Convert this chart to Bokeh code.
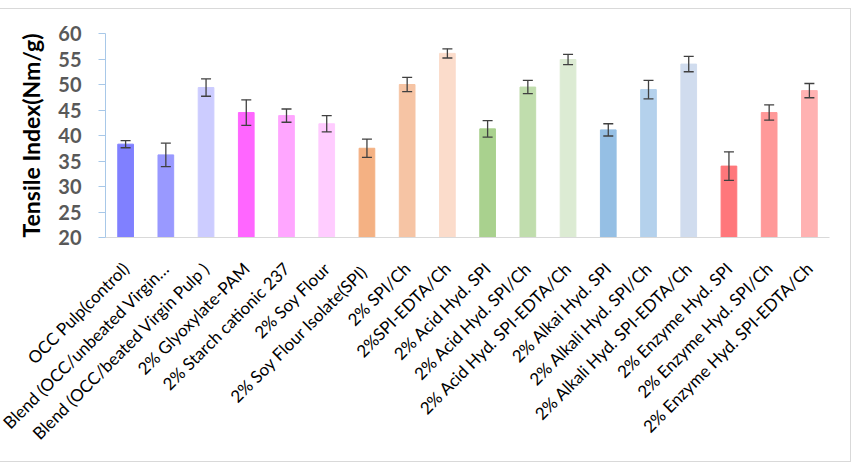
import math

from bokeh.embed import file_html
from bokeh.models import ColumnDataSource, FactorRange, Whisker
from bokeh.plotting import figure
from bokeh.resources import INLINE

# Pulp treatments and their tensile index (Nm/g) with standard deviation
categories = [
    "OCC Pulp(control)",
    "Blend (OCC/unbeated Virgin\u2026",
    "Blend (OCC/beated Virgin Pulp )",
    "2% Glyoxylate-PAM",
    "2% Starch cationic 237",
    "2% Soy Flour",
    "2%  Soy Flour Isolate(SPI)",
    "2% SPI/Ch",
    "2%SPI-EDTA/Ch",
    "2% Acid Hyd. SPI",
    "2% Acid Hyd. SPI/Ch",
    "2% Acid Hyd. SPI-EDTA/Ch",
    "2% Alkai Hyd. SPI",
    "2% Alkali Hyd. SPI/Ch",
    "2% Alkali Hyd. SPI-EDTA/Ch",
    "2% Enzyme Hyd. SPI",
    "2% Enzyme Hyd. SPI/Ch",
    "2% Enzyme Hyd. SPI-EDTA/Ch",
]
tensile = [38.3, 36.2, 49.4, 44.5, 43.9, 42.3, 37.5, 50.0, 56.1,
           41.3, 49.5, 54.9, 41.1, 49.0, 54.0, 34.0, 44.5, 48.8]
tensile_err = [0.7, 2.3, 1.7, 2.5, 1.3, 1.6, 1.8, 1.4, 0.9,
               1.6, 1.3, 1.0, 1.2, 1.8, 1.5, 2.8, 1.5, 1.4]
bar_colors = ["#8080FF", "#9999FF", "#CCCCFF", "#FF66FF", "#FFA6FF", "#FFCCFF",
              "#F4B183", "#F6C4A4", "#FBDCCB", "#A9D18E", "#C0DDAD", "#DCEBD3",
              "#95BFE4", "#B4D1EC", "#D0DCEE", "#FF777B", "#FF9999", "#FFB2B2"]
y_ticks = [20, 25, 30, 35, 40, 45, 50, 55, 60]

source = ColumnDataSource(data=dict(
    cat=categories,
    val=tensile,
    upper=[v + e for v, e in zip(tensile, tensile_err)],
    lower=[v - e for v, e in zip(tensile, tensile_err)],
    color=bar_colors,
))

p = figure(
    width=851, height=454,
    x_range=FactorRange(*categories, range_padding=0),
    y_range=(20, 60),
    output_backend="svg", toolbar_location=None,
    min_border_left=105, min_border_right=22,
    min_border_top=24, min_border_bottom=226,
)
# light frame around the chart (open on the left)
p.styles = {
    "margin-top": "8px",
    "border-top": "1px solid #D9D9D9",
    "border-right": "1px solid #D9D9D9",
    "border-bottom": "1px solid #D9D9D9",
}
p.outline_line_color = None
p.xgrid.grid_line_color = None
p.ygrid.grid_line_color = None

p.vbar(x="cat", top="val", bottom=20, width=0.39, color="color", source=source)

whisker = Whisker(base="cat", upper="upper", lower="lower", source=source,
                  line_color="#404040", line_width=1.3, level="annotation")
for head in (whisker.upper_head, whisker.lower_head):
    head.size = 10
    head.line_color = "#404040"
    head.line_width = 1.3
p.add_layout(whisker)

# y axis
p.yaxis.ticker = y_ticks
p.yaxis.axis_line_color = "#A8C8E8"
p.yaxis.major_tick_line_color = "#A8C8E8"
p.yaxis.major_tick_out = 7
p.yaxis.major_tick_in = 0
p.yaxis.minor_tick_line_color = None
p.yaxis.major_label_text_font = "Lato"
p.yaxis.major_label_text_font_style = "bold"
p.yaxis.major_label_text_font_size = "20px"
p.yaxis.major_label_text_color = "#595959"
p.yaxis.major_label_standoff = 17
p.yaxis.axis_label = "Tensile Index(Nm/g)"
p.yaxis.axis_label_text_font = "Lato"
p.yaxis.axis_label_text_font_style = "bold"
p.yaxis.axis_label_text_font_size = "23px"
p.yaxis.axis_label_text_color = "#000000"
p.yaxis.axis_label_standoff = 10

# x axis
p.xaxis.axis_line_color = "#D9D9D9"
p.xaxis.major_tick_line_color = None
p.xaxis.major_tick_out = 0
p.xaxis.major_label_orientation = math.pi / 4
p.xaxis.major_label_text_font = "Lato"
p.xaxis.major_label_text_font_size = "17px"
p.xaxis.major_label_text_color = "#000000"
p.xaxis.major_label_standoff = 28

open("out.html", "w").write(file_html(p, INLINE))
